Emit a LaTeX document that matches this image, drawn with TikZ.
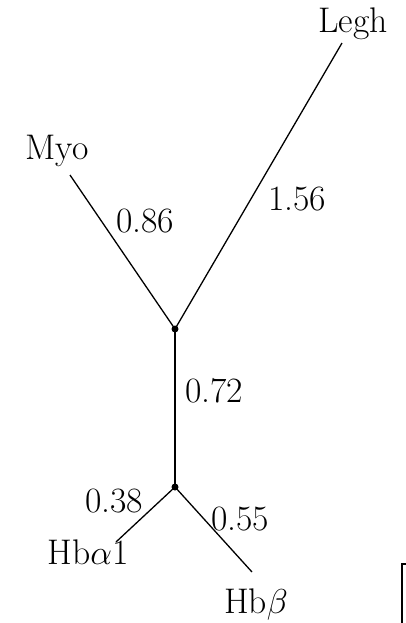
\documentclass[tikz,border=0pt]{standalone}
\begin{document}
\begin{tikzpicture}[x=0.5pt,y=-0.5pt,
  branch/.style={line width=0.65pt, black},
  junction/.style={circle, fill=black, inner sep=0pt, minimum size=3.5pt},
  lbl/.style={inner sep=0pt, font=\fontsize{17.8}{20}\selectfont}]
\useasboundingbox (0,0) rectangle (406,623);
\node[junction] (top) at (175,329) {};
\node[junction] (bot) at (175,487) {};
\coordinate (myo) at (70,175);
\coordinate (legh) at (342,43);
\coordinate (ha) at (116,542);
\coordinate (hb) at (252,572);
\draw[branch] (myo) -- (top.center);
\draw[branch] (legh) -- (top.center);
\draw[branch] (top.center) -- (bot.center);
\draw[branch] (bot.center) -- (ha);
\draw[branch] (bot.center) -- (hb);
\node[lbl] (tlegh) at (353,24) {Legh};
\node[lbl] (tmyo) at (57,151) {Myo};
\node[lbl] (l086) at (145,221) {0.86};
\node[lbl] (l156) at (297,199) {1.56};
\node[lbl] (l072) at (214,391) {0.72};
\node[lbl] (l038) at (114,501) {0.38};
\node[lbl] (l055) at (240,519) {0.55};
\node[lbl] (tha) at (88,552) {Hb$\alpha$1};
\node[lbl] (thb) at (256,604) {Hb$\beta$};
\coordinate (s1) at (402,564);
\coordinate (s2) at (402,623);
\coordinate (s0) at (406,564);
\draw[line width=1pt] (s0) -- (s1) -- (s2);
\end{tikzpicture}
\end{document}
